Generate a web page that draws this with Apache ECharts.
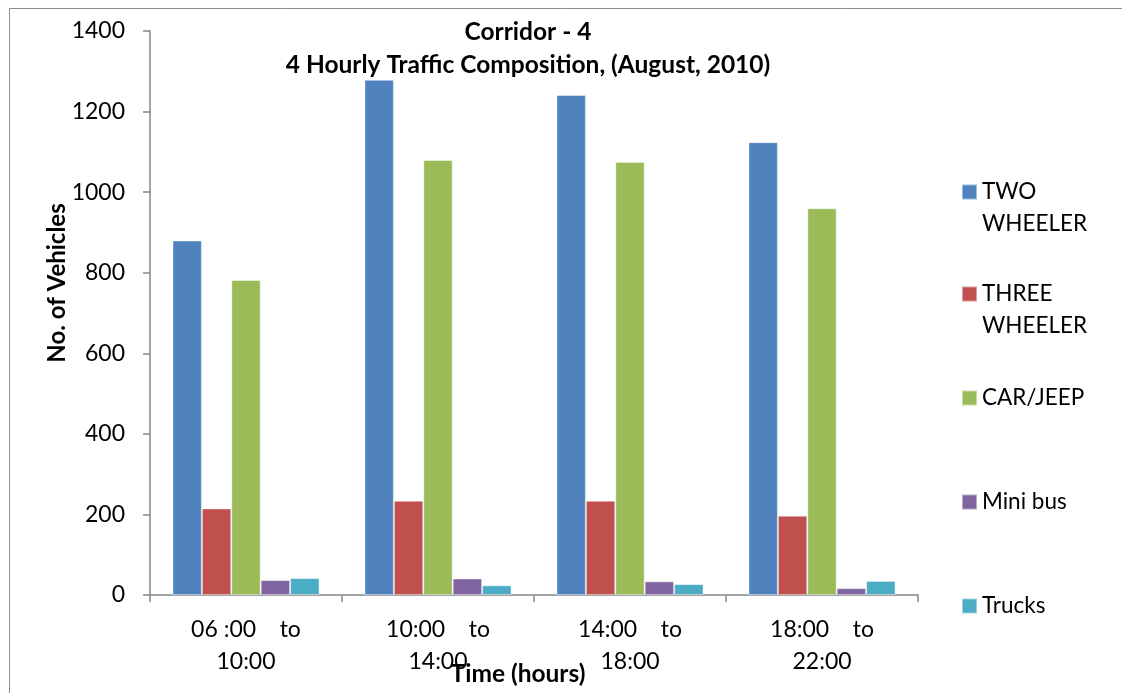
<!DOCTYPE html>
<html>
<head>
<meta charset="utf-8">
<title>Corridor - 4 Traffic Composition</title>
<script src="https://cdn.jsdelivr.net/npm/echarts@6/dist/echarts.min.js"></script>
<style>
  html, body { margin: 0; padding: 0; background: #ffffff; }
  #chart { width: 1122px; height: 693px; }
</style>
</head>
<body>
<div id="chart"></div>
<script>
// Time slots on the category axis
const timeSlots = ['06 :00    to\n10:00', '10:00    to\n14:00', '14:00    to\n18:00', '18:00    to\n22:00'];

// Vehicle counts per time slot
const twoWheeler   = [880, 1279, 1241, 1124];
const threeWheeler = [215, 234, 234, 197];
const carJeep      = [782, 1080, 1075, 960];
const miniBus      = [37, 41, 34, 17];
const trucks       = [42, 24, 27, 35];

const seriesNames  = ['TWO WHEELER', 'THREE WHEELER', 'CAR/JEEP', 'Mini bus', 'Trucks'];
const seriesValues = [twoWheeler, threeWheeler, carJeep, miniBus, trucks];
const seriesColors = ['#4F81BD', '#C0504D', '#9BBB59', '#8064A2', '#4BACC6'];

// y-axis tick settings
const yMin = 0, yMax = 1400, yStep = 200;

const FONT = 'Lato, "Open Sans", sans-serif';
const legendCenters = [192, 294, 398, 502, 606];

// One legend block per series so each entry sits at its own height.
// Two-word "WHEELER" names wrap; a blank leading line keeps the first
// word level with the swatch.
const legends = seriesNames.map(function (name, i) {
  const twoLine = name.indexOf('WHEELER') >= 0;
  return {
    orient: 'vertical',
    left: 961,
    top: twoLine ? legendCenters[i] - 48 : legendCenters[i] - 16,
    padding: 0,
    itemWidth: 15,
    itemHeight: 15,
    itemGap: 0,
    icon: 'rect',
    selectedMode: false,
    data: [name],
    formatter: function (n) { return n.indexOf('WHEELER') >= 0 ? ' \n' + n.replace(' ', '\n') : n; },
    textStyle: { fontFamily: FONT, fontSize: 22.5, color: '#000', lineHeight: 32 }
  };
});

const chart = echarts.init(document.getElementById('chart'), null, { renderer: 'canvas' });
chart.setOption({
  animation: false,
  backgroundColor: '#ffffff',
  title: {
    text: 'Corridor - 4\n4 Hourly Traffic Composition, (August, 2010)',
    left: 523,
    top: 11,
    textAlign: 'center',
    textStyle: { fontFamily: FONT, fontSize: 24.5, fontWeight: 'bold', color: '#000', lineHeight: 33 }
  },
  legend: legends,
  graphic: [{
    type: 'rect',
    shape: { x: 9.5, y: 8.5, width: 1300, height: 900 },
    style: { fill: 'none', stroke: '#8c8c8c', lineWidth: 1 },
    silent: true, z: -1
  }],
  grid: { left: 150, right: 204, top: 31, bottom: 98, containLabel: false, outerBoundsMode: 'none' },
  xAxis: {
    type: 'category',
    data: timeSlots,
    name: 'Time (hours)',
    nameLocation: 'middle',
    nameGap: 67,
    nameMoveOverlap: false,
    nameTextStyle: { fontFamily: FONT, fontSize: 24.5, fontWeight: 'bold', color: '#000', padding: [0, 32, 0, 0] },
    axisLine: { lineStyle: { color: '#868686', width: 1.5 } },
    axisTick: { show: true, alignWithLabel: false, length: 7, lineStyle: { color: '#868686', width: 1.5 } },
    axisLabel: { fontFamily: FONT, fontSize: 23, color: '#000', lineHeight: 32, margin: 19, interval: 0 },
    splitLine: { show: false }
  },
  yAxis: {
    type: 'value',
    min: yMin, max: yMax, interval: yStep,
    name: 'No. of Vehicles',
    nameLocation: 'middle',
    nameGap: 81,
    nameMoveOverlap: false,
    nameTextStyle: { fontFamily: FONT, fontSize: 24, fontWeight: 'bold', color: '#000', padding: [0, 0, 0, 60] },
    axisLine: { show: true, lineStyle: { color: '#868686', width: 1.5 } },
    axisTick: { show: true, length: 7, lineStyle: { color: '#868686', width: 1.5 } },
    axisLabel: { fontFamily: FONT, fontSize: 23, color: '#000', margin: 25, formatter: function (v) { return String(v); } },
    splitLine: { show: false }
  },
  series: seriesNames.map(function (name, i) {
    return {
      name: name,
      type: 'bar',
      data: seriesValues[i],
      barGap: '0%',
      barCategoryGap: '23.4%',
      itemStyle: { color: seriesColors[i], borderColor: 'rgba(255,255,255,0.45)', borderWidth: 1 }
    };
  })
});
</script>
</body>
</html>
